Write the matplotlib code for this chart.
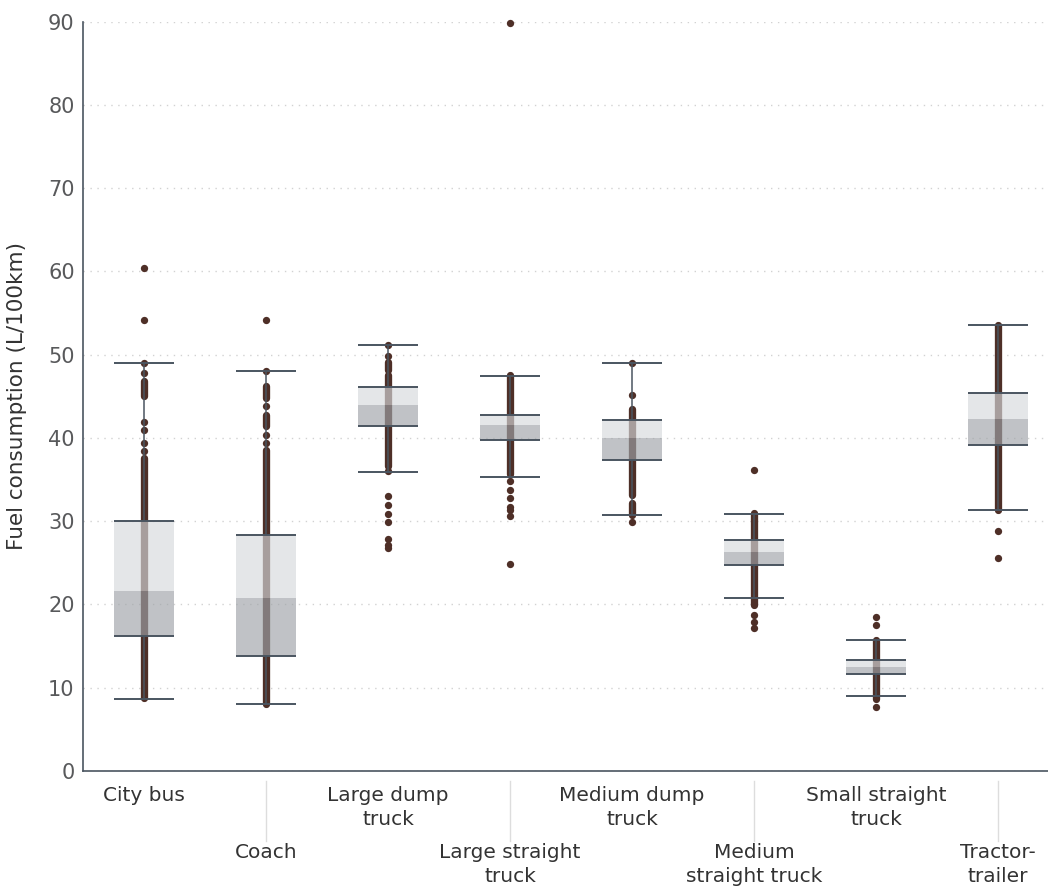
import matplotlib
matplotlib.use("Agg")
import matplotlib.pyplot as plt
import matplotlib.transforms as mtransforms

# ---------------- data ----------------
categories = ["City bus", "Coach", "Large dump\ntruck", "Large straight\ntruck",
              "Medium dump\ntruck", "Medium\nstraight truck", "Small straight\ntruck",
              "Tractor-\ntrailer"]

whis_lo = [8.7, 8.0, 35.9, 35.3, 30.8, 20.8, 9.0, 31.4]
q1      = [16.2, 13.8, 41.4, 39.8, 37.4, 24.8, 11.6, 39.2]
median  = [21.6, 20.8, 44.0, 41.5, 40.0, 26.3, 12.5, 42.3]
q3      = [30.0, 28.3, 46.1, 42.8, 42.2, 27.7, 13.3, 45.4]
whis_hi = [49.0, 48.0, 51.2, 47.5, 49.0, 30.9, 15.7, 53.6]

# dense runs of observations (low, high) for each category
dense_runs = [
    [(8.8, 37.6), (45.0, 46.8)],
    [(8.1, 38.6), (41.4, 42.8), (44.8, 46.2)],
    [(36.6, 47.6), (48.2, 49.1)],
    [(35.7, 47.6)],
    [(33.2, 43.5), (30.8, 32.2)],
    [(19.9, 31.0)],
    [(8.6, 15.7)],
    [(31.4, 53.6)],
]

# isolated observations for each category
single_points = [
    [38.4, 39.4, 40.9, 41.9, 47.8, 49.0, 54.2, 60.4],
    [39.4, 40.4, 43.8, 48.0, 54.2],
    [49.8, 51.2, 36.0, 33.0, 31.9, 30.9, 29.9, 27.9, 27.2, 26.8],
    [34.8, 33.8, 32.8, 31.7, 31.4, 30.6, 24.9, 89.9],
    [45.2, 49.0, 29.9],
    [36.1, 18.7, 17.9, 17.2],
    [18.5, 17.5, 7.7],
    [28.8, 25.6],
]

yticks = [0, 10, 20, 30, 40, 50, 60, 70, 80, 90]
ylabel = "Fuel consumption (L/100km)"

# ---------------- style ----------------
FONT = "DejaVu Sans"
dot_color = "#4e2f27"
line_color = "#4a5560"
upper_color = (215/255, 217/255, 220/255)
lower_color = (159/255, 163/255, 168/255)
box_alpha = 0.655

W, H = 1048, 886
fig = plt.figure(figsize=(W/100, H/100), dpi=100)
ax = fig.add_axes([83/W, (H-771)/H, (W-83)/W, (771-21.7)/H])

positions = list(range(len(categories)))
box_w = 0.49
dot_d_pt = 7.3 * 72 / 100

# points
for x, runs, pts in zip(positions, dense_runs, single_points):
    for lo, hi in runs:
        ax.plot([x, x], [lo, hi], color=dot_color, lw=dot_d_pt,
                solid_capstyle="round", zorder=2)
    ax.plot([x]*len(pts), pts, 'o', color=dot_color, ms=dot_d_pt,
            mec='none', zorder=2, clip_on=False)

# boxes (two halves)
lower_h = [m - a for m, a in zip(median, q1)]
upper_h = [b - m for b, m in zip(q3, median)]
ax.bar(positions, lower_h, bottom=q1, width=box_w, color=lower_color,
       alpha=box_alpha, zorder=3, linewidth=0)
ax.bar(positions, upper_h, bottom=median, width=box_w, color=upper_color,
       alpha=box_alpha, zorder=3, linewidth=0)

# box edges, caps, whiskers
xmin = [p - box_w/2 for p in positions]
xmax = [p + box_w/2 for p in positions]
ax.hlines(q1, xmin, xmax, color=line_color, lw=1.4, zorder=4)
ax.hlines(q3, xmin, xmax, color=line_color, lw=1.4, zorder=4)
ax.hlines(whis_lo, xmin, xmax, color=line_color, lw=1.4, zorder=4)
ax.hlines(whis_hi, xmin, xmax, color=line_color, lw=1.4, zorder=4)
ax.vlines(positions, whis_lo, q1, color=line_color, lw=1.1, zorder=4)
ax.vlines(positions, q3, whis_hi, color=line_color, lw=1.1, zorder=4)

# axes styling
ax.set_xlim(-0.5, (W - 144) / 122)
ax.set_ylim(0, 90)
ax.set_yticks(yticks)
ax.set_yticklabels([str(t) for t in yticks], fontsize=15, color="#58595b",
                   fontfamily=FONT)
ax.grid(axis='y', linestyle=(0, (1, 4)), color="#d2d2d2", lw=1.0, zorder=0)
ax.set_axisbelow(True)
for s in ["top", "right"]:
    ax.spines[s].set_visible(False)
for s in ["left", "bottom"]:
    ax.spines[s].set_color("#4a5560")
    ax.spines[s].set_linewidth(1.2)
ax.tick_params(axis='both', length=0)
ax.tick_params(axis='y', pad=6)

ax.set_xticks(positions)
ax.set_xticklabels(categories, fontsize=14.5, color="#333333", fontfamily=FONT,
                   linespacing=1.35, multialignment="center")
for i, t in enumerate(ax.xaxis.get_major_ticks()):
    t.set_pad(10.5 if i % 2 == 0 else 52)

ax.set_ylabel(ylabel, fontsize=15.5, color="#333333", fontfamily=FONT)
ax.yaxis.set_label_coords(-56 / (W - 83), 0.5)

# separators between staggered labels
trans = mtransforms.blended_transform_factory(ax.transData, ax.transAxes)
for p in positions[1::2]:
    ax.plot([p, p], [-10/748, -70/748], color="#dddddd", lw=1,
            transform=trans, clip_on=False, zorder=1)

fig.savefig("out.png", dpi=100)
